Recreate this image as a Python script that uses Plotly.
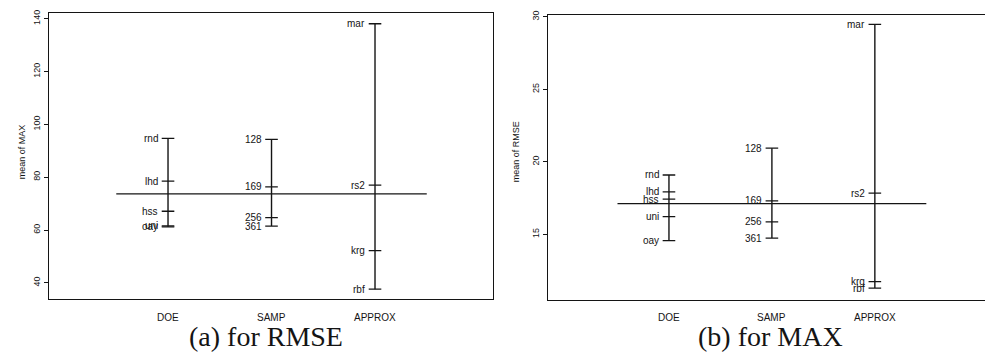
import plotly.graph_objects as go

# Factor names and their positions along the x axis
factors = ["DOE", "SAMP", "APPROX"]
factor_pos = [1, 2, 3]

# Level names for each factor
doe_levels = ["rnd", "lhd", "hss", "oay", "uni"]
samp_levels = ["128", "169", "256", "361"]
approx_levels = ["mar", "rs2", "krg", "rbf"]

# Panel (a): mean of MAX per factor level
a_doe = [94.7, 78.5, 67.1, 61.2, 61.6]
a_samp = [94.3, 76.3, 64.7, 61.5]
a_approx = [138.1, 77.0, 52.2, 37.6]
a_grand = 73.7

# Panel (b): mean of RMSE per factor level
b_doe_levels = ["rnd", "lhd", "hss", "uni", "oay"]
b_doe = [19.1, 17.93, 17.44, 16.23, 14.57]
b_samp = [20.95, 17.32, 15.87, 14.75]
b_approx = [29.48, 17.85, 11.75, 11.3]
b_grand = 17.12

a_ticks = [40, 60, 80, 100, 120, 140]
b_ticks = [15, 20, 25, 30]

W, H = 985, 362
INK = "#141414"
SANS = "Liberation Sans, Arial, sans-serif"
SERIF = "Liberation Serif, Times New Roman, serif"

fig = go.Figure()
annotations = []


def design_panel(xa, ya, level_sets, grand):
    xref = "x" if xa == "xaxis" else "x2"
    yref = "y" if ya == "yaxis" else "y2"
    for pos, (names, vals) in zip(factor_pos, level_sets):
        # vertical span of level means
        fig.add_trace(go.Scatter(
            x=[pos, pos], y=[min(vals), max(vals)], mode="lines",
            line=dict(color=INK, width=1.4), xaxis=xref, yaxis=yref,
            showlegend=False, hoverinfo="skip"))
        # short tick at each level mean
        fig.add_trace(go.Scatter(
            x=[pos] * len(vals), y=vals, mode="markers",
            marker=dict(symbol="line-ew", size=9,
                        line=dict(color=INK, width=1.3)),
            xaxis=xref, yaxis=yref, showlegend=False, hoverinfo="skip"))
        for n, v in zip(names, vals):
            annotations.append(dict(
                x=pos, y=v, xref=xref, yref=yref, text=n, showarrow=False,
                xanchor="right", yanchor="middle", xshift=-8,
                font=dict(family=SANS, size=10, color=INK)))
    # grand mean line
    fig.add_trace(go.Scatter(
        x=[0.5, 3.5], y=[grand, grand], mode="lines",
        line=dict(color=INK, width=1.3), xaxis=xref, yaxis=yref,
        showlegend=False, hoverinfo="skip"))
    for f, pos in zip(factors, factor_pos):
        annotations.append(dict(
            x=pos, y=(H - 317) / H, xref=xref, yref="paper", text=f,
            showarrow=False, xanchor="center", yanchor="middle",
            font=dict(family=SANS, size=10, color=INK)))


design_panel("xaxis", "yaxis",
             [(doe_levels, a_doe), (samp_levels, a_samp), (approx_levels, a_approx)],
             a_grand)
design_panel("xaxis2", "yaxis2",
             [(b_doe_levels, b_doe), (samp_levels, b_samp), (approx_levels, b_approx)],
             b_grand)

# axis titles and captions
annotations += [
    dict(x=15 / W, y=(H - 150) / H, xref="paper", yref="paper", text="mean of MAX",
         textangle=-90, showarrow=False, font=dict(family=SANS, size=9, color=INK)),
    dict(x=516 / W, y=(H - 150) / H, xref="paper", yref="paper", text="mean of RMSE",
         textangle=-90, showarrow=False, font=dict(family=SANS, size=9, color=INK)),
    dict(x=266 / W, y=(H - 354) / H, xref="paper", yref="paper", text="(a) for RMSE",
         xanchor="center", yanchor="bottom",
         showarrow=False, font=dict(family=SERIF, size=28, color=INK)),
    dict(x=770 / W, y=(H - 354) / H, xref="paper", yref="paper", text="(b) for MAX",
         xanchor="center", yanchor="bottom",
         showarrow=False, font=dict(family=SERIF, size=28, color=INK)),
]

xcommon = dict(showgrid=False, zeroline=False, showticklabels=False, ticks="",
               showline=True, linecolor=INK, linewidth=1.3, mirror=True)
ycommon = dict(showgrid=False, zeroline=False, showline=True, linecolor=INK,
               linewidth=1.3, ticks="outside", ticklen=4, tickcolor=INK,
               tickangle=-90, tickfont=dict(family=SANS, size=9, color=INK))

fig.update_layout(
    width=W, height=H, margin=dict(l=0, r=0, t=0, b=0),
    paper_bgcolor="white", plot_bgcolor="white",
    xaxis=dict(domain=[49 / W, 493 / W], range=[-0.15, 4.14], **xcommon),
    yaxis=dict(domain=[(H - 298) / H, (H - 9) / H], range=[34.0, 142.2],
               tickvals=a_ticks, mirror=True, **ycommon),
    xaxis2=dict(domain=[548 / W, 1.0], range=[-0.175, 4.07], anchor="y2", **xcommon),
    yaxis2=dict(domain=[(H - 299) / H, (H - 11) / H], range=[10.5, 30.14],
                tickvals=b_ticks, anchor="x2", **ycommon),
    annotations=annotations,
)

fig.write_html("out.html")
